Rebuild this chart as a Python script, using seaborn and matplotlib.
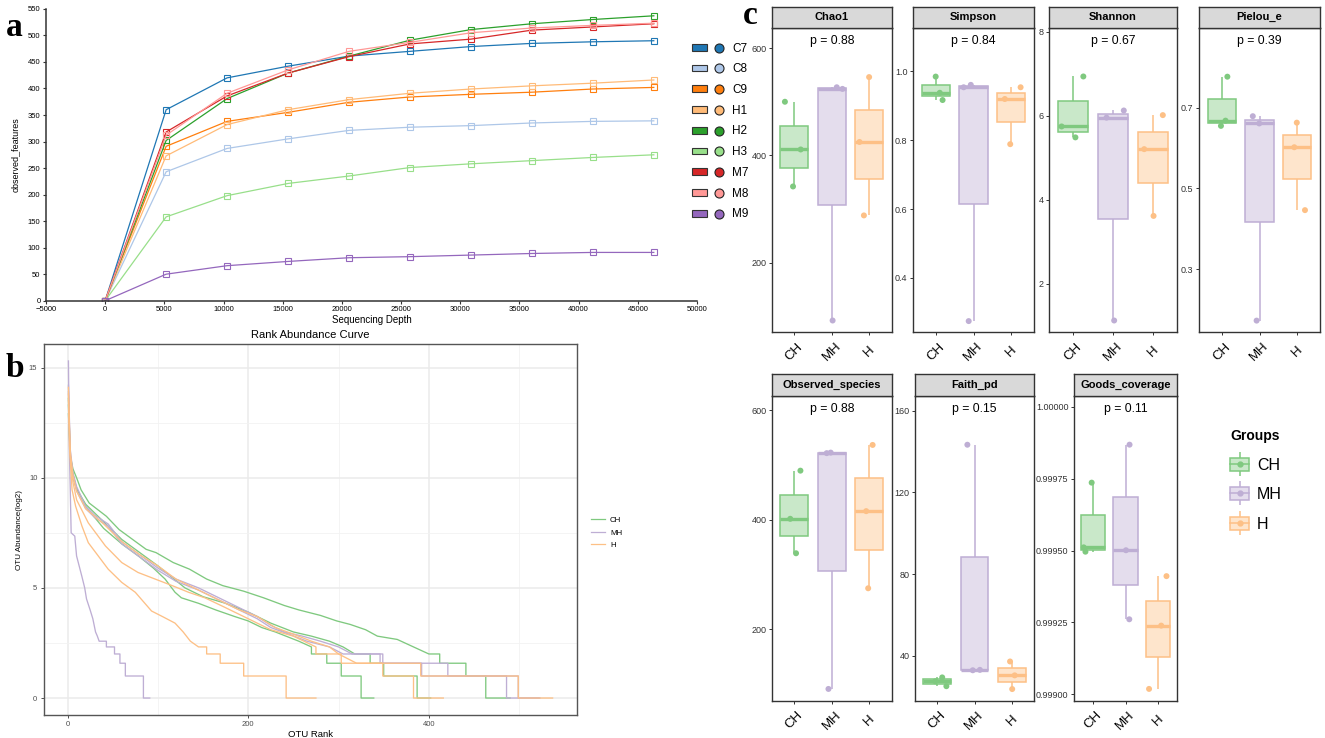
import numpy as np
import pandas as pd
import matplotlib
matplotlib.use("Agg")
import matplotlib.pyplot as plt
import seaborn as sns
from matplotlib.patches import Patch
from matplotlib.lines import Line2D
from matplotlib.legend_handler import HandlerTuple
from matplotlib.ticker import FormatStrFormatter, FixedLocator
import matplotlib.colors as mcolors

W, H = 1325, 738
NARROW = ['Liberation Sans Narrow', 'Liberation Sans', 'DejaVu Sans']
REG = ['Liberation Sans', 'DejaVu Sans']
SERIF = ['Liberation Serif', 'DejaVu Serif']
plt.rcParams['font.family'] = REG

# ---------------- panel a data (rarefaction) ----------------
depths = [0, 5150, 10300, 15450, 20600, 25750, 30900, 36050, 41200, 46350]
samples = ['C7', 'C8', 'C9', 'H1', 'H2', 'H3', 'M7', 'M8', 'M9']
features_C7 = [0, 360, 420, 442, 461, 470, 479, 485, 488, 490]
features_C8 = [0, 243, 287, 305, 321, 327, 330, 335, 338, 339]
features_C9 = [0, 291, 338, 355, 374, 384, 389, 393, 399, 402]
features_H1 = [0, 273, 332, 360, 379, 391, 399, 405, 410, 416]
features_H2 = [0, 302, 381, 429, 461, 491, 511, 522, 530, 537]
features_H3 = [0, 158, 198, 221, 235, 251, 258, 264, 270, 275]
features_M7 = [0, 318, 386, 429, 460, 484, 493, 510, 516, 522]
features_M8 = [0, 312, 391, 435, 470, 487, 505, 514, 519, 523]
features_M9 = [0, 50, 66, 74, 81, 83, 86, 89, 91, 91]
sample_colors = ['#1f77b4', '#aec7e8', '#ff7f0e', '#ffbb78', '#2ca02c',
                 '#98df8a', '#d62728', '#ff9896', '#9467bd']

# ---------------- panel b data (rank abundance) ----------------
rank_C7 = [1, 3, 6, 10, 15, 24, 43, 57, 72, 87, 98, 117, 135, 154, 172, 195, 217, 240, 256, 280,
           298, 313, 330, 343, 365, 383, 400, 412, 412, 441, 441, 463, 463, 490]
abund_C7 = [13.6, 11.0, 10.4, 10.0, 9.45, 8.85, 8.25, 7.65, 7.2, 6.75, 6.6, 6.15, 5.85, 5.4, 5.1,
            4.85, 4.55, 4.2, 4.0, 3.75, 3.5, 3.34, 3.1, 2.81, 2.66, 2.32, 2.0, 2.0, 1.58, 1.58,
            1.0, 1.0, 0, 0]
rank_C8 = [1, 3, 6, 10, 20, 40, 60, 80, 95, 108, 119, 126, 145, 164, 185, 200, 215, 230, 256, 270,
           270, 287, 287, 303, 303, 325, 325, 339]
abund_C8 = [13.3, 10.8, 10.0, 9.5, 8.7, 7.7, 7.0, 6.4, 5.9, 5.4, 4.8, 4.55, 4.3, 4.0, 3.7, 3.5,
            3.2, 3.0, 2.58, 2.32, 2.0, 2.0, 1.58, 1.58, 1.0, 1.0, 0, 0]
rank_C9 = [1, 3, 6, 10, 20, 40, 60, 80, 100, 115, 130, 150, 175, 200, 225, 250, 270, 290, 305, 318,
           335, 335, 350, 350, 387, 387, 402]
abund_C9 = [12.9, 11.0, 10.2, 9.5, 8.8, 8.0, 7.2, 6.6, 6.0, 5.5, 5.0, 4.6, 4.3, 3.9, 3.4, 3.0,
            2.81, 2.58, 2.32, 2.0, 2.0, 1.58, 1.58, 1.0, 1.0, 0, 0]
rank_M7 = [1, 3, 6, 10, 20, 30, 45, 60, 80, 100, 120, 145, 165, 190, 210, 225, 240, 260, 280, 300,
           315, 346, 346, 392, 392, 486, 486, 522]
abund_M7 = [14.2, 11.3, 10.2, 9.6, 8.7, 8.3, 7.9, 7.1, 6.5, 5.9, 5.4, 5.0, 4.6, 4.1, 3.7, 3.3,
            3.0, 2.81, 2.58, 2.32, 2.0, 2.0, 1.58, 1.58, 1.0, 1.0, 0, 0]
rank_M8 = [1, 3, 6, 10, 20, 30, 45, 60, 80, 100, 120, 145, 165, 190, 210, 225, 245, 265, 290, 305,
           349, 349, 421, 421, 499, 499, 523]
abund_M8 = [13.9, 11.0, 10.1, 9.4, 8.6, 8.2, 7.8, 7.0, 6.4, 5.8, 5.3, 4.9, 4.5, 4.0, 3.6, 3.2,
            2.9, 2.58, 2.32, 2.0, 2.0, 1.58, 1.58, 1.0, 1.0, 0, 0]
rank_M9 = [1, 2, 3, 4, 8, 10, 16, 19, 21, 25, 28, 31, 33, 35, 43, 43, 52, 52, 58, 58, 64, 64, 84, 84, 91]
abund_M9 = [15.3, 11.3, 9.5, 7.5, 7.35, 6.45, 5.5, 5.0, 4.5, 4.0, 3.6, 3.0, 2.81, 2.58, 2.58, 2.32,
            2.32, 2.0, 2.0, 1.58, 1.58, 1.0, 1.0, 0, 0]
rank_H1 = [1, 3, 6, 10, 23, 42, 60, 78, 97, 116, 134, 152, 175, 200, 225, 250, 275, 275, 303, 303,
           349, 349, 383, 383, 416]
abund_H1 = [13.5, 11.0, 9.8, 9.0, 7.95, 6.9, 6.15, 5.7, 5.4, 5.1, 4.8, 4.55, 4.1, 3.6, 3.1, 2.81,
            2.32, 2.0, 2.0, 1.58, 1.58, 1.0, 1.0, 0, 0]
rank_H2 = [1, 3, 6, 10, 20, 40, 60, 80, 100, 120, 145, 165, 190, 210, 230, 250, 270, 290, 300, 320,
           391, 391, 499, 499, 537]
abund_H2 = [13.8, 11.2, 10.1, 9.4, 8.6, 7.9, 7.1, 6.5, 6.0, 5.4, 4.9, 4.5, 4.0, 3.7, 3.2, 2.9,
            2.58, 2.32, 2.0, 1.58, 1.58, 1.0, 1.0, 0, 0]
rank_H3 = [1, 2, 5, 9, 16, 23, 34, 45, 60, 75, 93, 105, 119, 128, 136, 145, 154, 154, 169, 169,
           195, 195, 242, 242, 275]
abund_H3 = [14.1, 11.5, 9.45, 8.7, 7.8, 7.05, 6.45, 5.85, 5.25, 4.8, 3.95, 3.7, 3.4, 3.0, 2.58,
            2.32, 2.32, 2.0, 2.0, 1.58, 1.58, 1.0, 1.0, 0, 0]
groups = ['CH', 'MH', 'H']
group_colors = ['#7FC97F', '#BEAED4', '#FDC086']

# ---------------- panel c data (alpha diversity) ----------------
metric_names = ['Chao1', 'Simpson', 'Shannon', 'Pielou_e', 'Observed_species', 'Faith_pd', 'Goods_coverage']
p_values = ['0.88', '0.84', '0.67', '0.39', '0.88', '0.15', '0.11']
chao1_CH = [500, 411, 342]
chao1_MH = [527, 524, 92]
chao1_H = [546, 425, 288]
simpson_CH = [0.984, 0.937, 0.916]
simpson_MH = [0.960, 0.953, 0.275]
simpson_H = [0.953, 0.919, 0.788]
shannon_CH = [6.94, 5.75, 5.49]
shannon_MH = [6.13, 5.96, 1.13]
shannon_H = [6.02, 5.21, 3.62]
pielou_CH = [0.777, 0.668, 0.655]
pielou_MH = [0.679, 0.661, 0.172]
pielou_H = [0.663, 0.602, 0.446]
observed_CH = [490, 402, 339]
observed_MH = [522, 523, 91]
observed_H = [537, 416, 275]
faith_CH = [29.4, 27.5, 25.1]
faith_MH = [143.3, 33.1, 32.9]
faith_H = [37.2, 30.4, 23.7]
goods_CH = [0.999736, 0.999511, 0.999496]
goods_MH = [0.999868, 0.999501, 0.999261]
goods_H = [0.999411, 0.999239, 0.999019]

metric_values = {
    'Chao1': (chao1_CH, chao1_MH, chao1_H),
    'Simpson': (simpson_CH, simpson_MH, simpson_H),
    'Shannon': (shannon_CH, shannon_MH, shannon_H),
    'Pielou_e': (pielou_CH, pielou_MH, pielou_H),
    'Observed_species': (observed_CH, observed_MH, observed_H),
    'Faith_pd': (faith_CH, faith_MH, faith_H),
    'Goods_coverage': (goods_CH, goods_MH, goods_H),
}
metric_ylim = {
    'Chao1': (70, 637), 'Simpson': (0.2425, 1.124), 'Shannon': (0.849, 8.087),
    'Pielou_e': (0.143, 0.897), 'Observed_species': (69.5, 627), 'Faith_pd': (18.0, 167.3),
    'Goods_coverage': (0.998978, 1.0000382),
}
metric_ticks = {
    'Chao1': [200, 400, 600], 'Simpson': [0.4, 0.6, 0.8, 1.0], 'Shannon': [2, 4, 6, 8],
    'Pielou_e': [0.3, 0.5, 0.7], 'Observed_species': [200, 400, 600], 'Faith_pd': [40, 80, 120, 160],
    'Goods_coverage': [0.999, 0.99925, 0.9995, 0.99975, 1.0],
}
metric_fmt = {
    'Chao1': '%d', 'Simpson': '%.1f', 'Shannon': '%d', 'Pielou_e': '%.1f',
    'Observed_species': '%d', 'Faith_pd': '%d', 'Goods_coverage': '%.5f',
}
# pixel boxes (x0, x1, panel_top, panel_bottom, strip_top)
panel_box = {
    'Chao1': (772, 891.5, 28.3, 332.3, 6.5),
    'Simpson': (913, 1034, 28.3, 332.3, 6.5),
    'Shannon': (1049, 1177, 28.3, 332.3, 6.5),
    'Pielou_e': (1199, 1320, 28.3, 332.3, 6.5),
    'Observed_species': (772, 891.5, 395.7, 700.7, 374),
    'Faith_pd': (915, 1034, 395.7, 700.7, 374),
    'Goods_coverage': (1074, 1177, 395.7, 700.7, 374),
}


def frac(x0, y0, x1, y1):
    return [x0 / W, 1 - y1 / H, (x1 - x0) / W, (y1 - y0) / H]


def lighten(c, a=0.42):
    r, g, b = mcolors.to_rgb(c)
    return (1 - a + a * r, 1 - a + a * g, 1 - a + a * b)


fig = plt.figure(figsize=(W / 100, H / 100), dpi=100)

# ================= panel a =================
axa = fig.add_axes(frac(46, 8.9, 697, 300.7))
feat_lists = [features_C7, features_C8, features_C9, features_H1, features_H2,
              features_H3, features_M7, features_M8, features_M9]
dfa = pd.DataFrame({
    'depth': depths * len(samples),
    'features': sum(feat_lists, []),
    'sample': np.repeat(samples, len(depths)),
})
sns.lineplot(data=dfa, x='depth', y='features', hue='sample', hue_order=samples,
             palette=sample_colors, marker='s', markersize=5, linewidth=0.9,
             estimator=None, sort=False, legend=False, ax=axa)
for ln in axa.get_lines():
    ln.set_markeredgecolor(ln.get_color())
    ln.set_markerfacecolor('none')
    ln.set_markeredgewidth(0.8)
axa.set_xlim(-5000, 50000)
axa.set_ylim(0, 550)
axa.set_xticks(list(range(-5000, 50001, 5000)))
axa.set_yticks(list(range(0, 551, 50)))
for s in ['top', 'right']:
    axa.spines[s].set_visible(False)
for s in ['left', 'bottom']:
    axa.spines[s].set_color('#333333')
    axa.spines[s].set_linewidth(1.1)
axa.tick_params(length=2.5, width=0.8, color='#333333', labelsize=5.5, pad=1.5)
for t in axa.get_xticklabels() + axa.get_yticklabels():
    t.set_family(NARROW)
axa.set_xlabel('Sequencing Depth', fontsize=7, family=NARROW, labelpad=1)
axa.set_ylabel('observed_features', fontsize=6.5, family=REG, labelpad=6)

handles_a = [(Patch(facecolor=c, edgecolor='#333333', linewidth=0.8),
              Line2D([], [], ls='none', marker='o', markersize=6.5, markerfacecolor=c,
                     markeredgecolor='#222222', markeredgewidth=0.8))
             for c in sample_colors]
fig.legend(handles_a, samples, handler_map={tuple: HandlerTuple(ndivide=None, pad=0.35)},
           loc='upper left', bbox_to_anchor=(692 / W, 1 - 42.5 / H), frameon=False,
           prop={'family': NARROW, 'size': 8.5}, handlelength=2.9, handleheight=0.5,
           handletextpad=0.5, labelspacing=0.74, borderpad=0, borderaxespad=0)

# ================= panel b =================
axb = fig.add_axes(frac(43.6, 344, 577, 715))
curves = [('C7', rank_C7, abund_C7), ('C8', rank_C8, abund_C8), ('C9', rank_C9, abund_C9),
          ('M7', rank_M7, abund_M7), ('M8', rank_M8, abund_M8), ('M9', rank_M9, abund_M9),
          ('H1', rank_H1, abund_H1), ('H2', rank_H2, abund_H2), ('H3', rank_H3, abund_H3)]
group_of = {'C': 'CH', 'M': 'MH', 'H': 'H'}
rows = []
for name, rk, ab in curves:
    for r, a in zip(rk, ab):
        rows.append((name, group_of[name[0]], r, a))
dfb = pd.DataFrame(rows, columns=['sample', 'group', 'rank', 'abundance'])
sns.lineplot(data=dfb, x='rank', y='abundance', hue='group', hue_order=groups,
             palette=group_colors, units='sample', estimator=None, sort=False,
             linewidth=0.95, legend=False, ax=axb)
axb.set_xlim(-26.5, 564)
axb.set_ylim(-0.77, 16.07)
axb.xaxis.set_major_locator(FixedLocator([0, 200, 400]))
axb.xaxis.set_minor_locator(FixedLocator([100, 300, 500]))
axb.yaxis.set_major_locator(FixedLocator([0, 5, 10, 15]))
axb.yaxis.set_minor_locator(FixedLocator([2.5, 7.5, 12.5]))
axb.grid(which='major', color='#EBEBEB', linewidth=1.1)
axb.grid(which='minor', color='#F2F2F2', linewidth=0.6)
axb.set_axisbelow(True)
axb.tick_params(which='minor', length=0)
axb.tick_params(which='major', length=2.5, width=0.6, color='#333333',
                labelcolor='#4D4D4D', labelsize=5.5, pad=2)
for s in axb.spines.values():
    s.set_color('#555555')
    s.set_linewidth(1.0)
axb.set_title('Rank Abundance Curve', fontsize=8, pad=4)
axb.set_xlabel('OTU Rank', fontsize=6.8, labelpad=1)
axb.set_ylabel('OTU Abundance(log2)', fontsize=5.8, labelpad=4)
handles_b = [Line2D([], [], color=c, linewidth=0.9) for c in group_colors]
fig.legend(handles_b, groups, loc='upper left', bbox_to_anchor=(591 / W, 1 - 516.5 / H),
           frameon=False, prop={'family': REG, 'size': 5.7}, handlelength=1.8,
           handletextpad=0.6, labelspacing=0.64, borderpad=0, borderaxespad=0)

# ================= panel c =================
np.random.seed(7)
for mi, name in enumerate(metric_names):
    x0, x1, pt, pb, st = panel_box[name]
    ax = fig.add_axes(frac(x0, pt, x1, pb))
    vals = metric_values[name]
    dfm = pd.DataFrame({'group': np.repeat(groups, 3), 'value': sum([list(v) for v in vals], [])})
    for gi, g in enumerate(groups):
        sns.boxplot(data=dfm[dfm['group'] == g], x='group', y='value', order=groups,
                    color=lighten(group_colors[gi]), linecolor=group_colors[gi],
                    saturation=1, linewidth=1.1, width=0.75, whis=1.5,
                    showcaps=False, showfliers=False,
                    medianprops={'linewidth': 2.4}, ax=ax)
    sns.stripplot(data=dfm, x='group', y='value', order=groups, hue='group',
                  hue_order=groups, palette=group_colors, jitter=0.3, size=4.3,
                  linewidth=0, legend=False, ax=ax, zorder=4)
    ax.set_xlim(-0.6, 2.6)
    ax.set_ylim(*metric_ylim[name])
    ax.set_yticks(metric_ticks[name])
    ax.yaxis.set_major_formatter(FormatStrFormatter(metric_fmt[name]))
    ax.set_xticks([0, 1, 2])
    ax.set_xticklabels(groups, rotation=45, ha='center', va='center')
    ax.set_xlabel('')
    ax.set_ylabel('')
    ax.tick_params(axis='x', length=2.5, width=0.7, color='#333333', pad=11.5, labelsize=9.5,
                   labelcolor='black')
    ax.tick_params(axis='y', length=2.5, width=0.7, color='#333333', pad=1.5, labelsize=6.5,
                   labelcolor='#333333')
    for t in ax.get_xticklabels() + ax.get_yticklabels():
        t.set_family(NARROW)
    for s in ax.spines.values():
        s.set_color('#333333')
        s.set_linewidth(1.0)
    ax.text(0.5, 0.958, 'p = ' + p_values[mi], transform=ax.transAxes, ha='center',
            va='center', fontsize=8.8, family=NARROW)
    # facet strip
    sax = fig.add_axes(frac(x0, st, x1, pt))
    sax.set_facecolor('#D9D9D9')
    sax.set_xticks([])
    sax.set_yticks([])
    for s in sax.spines.values():
        s.set_color('#333333')
        s.set_linewidth(1.0)
    sax.text(0.5, 0.5, name, transform=sax.transAxes, ha='center', va='center',
             fontsize=8, fontweight='bold', family=NARROW)

handles_c = [(Line2D([], [], ls='none', marker='|', markersize=17, markeredgewidth=1.1, color=c),
              Patch(facecolor=lighten(c), edgecolor=c, linewidth=1.1),
              Line2D([], [], color=c, linewidth=1.1, marker='o', markersize=3.5))
             for c in group_colors]
fig.legend(handles_c, groups, title='Groups', loc='upper left',
           bbox_to_anchor=(1230 / W, 1 - 429 / H), frameon=False,
           prop={'family': NARROW, 'size': 11.5},
           title_fontproperties={'family': NARROW, 'size': 10, 'weight': 'bold'},
           handlelength=1.2, handleheight=0.85, handletextpad=0.5, labelspacing=0.92,
           alignment='left', borderpad=0, borderaxespad=0,
           handler_map={tuple: HandlerTuple(ndivide=1, pad=0)})

# panel letters
fig.text(13.8 / W, 1 - 36.3 / H, 'a', ha='center', va='baseline', fontsize=24,
         fontweight='bold', family=SERIF)
fig.text(15 / W, 1 - 376.7 / H, 'b', ha='center', va='baseline', fontsize=24,
         fontweight='bold', family=SERIF)
fig.text(750 / W, 1 - 24 / H, 'c', ha='center', va='baseline', fontsize=24,
         fontweight='bold', family=SERIF)

fig.savefig('out.png', dpi=100)
